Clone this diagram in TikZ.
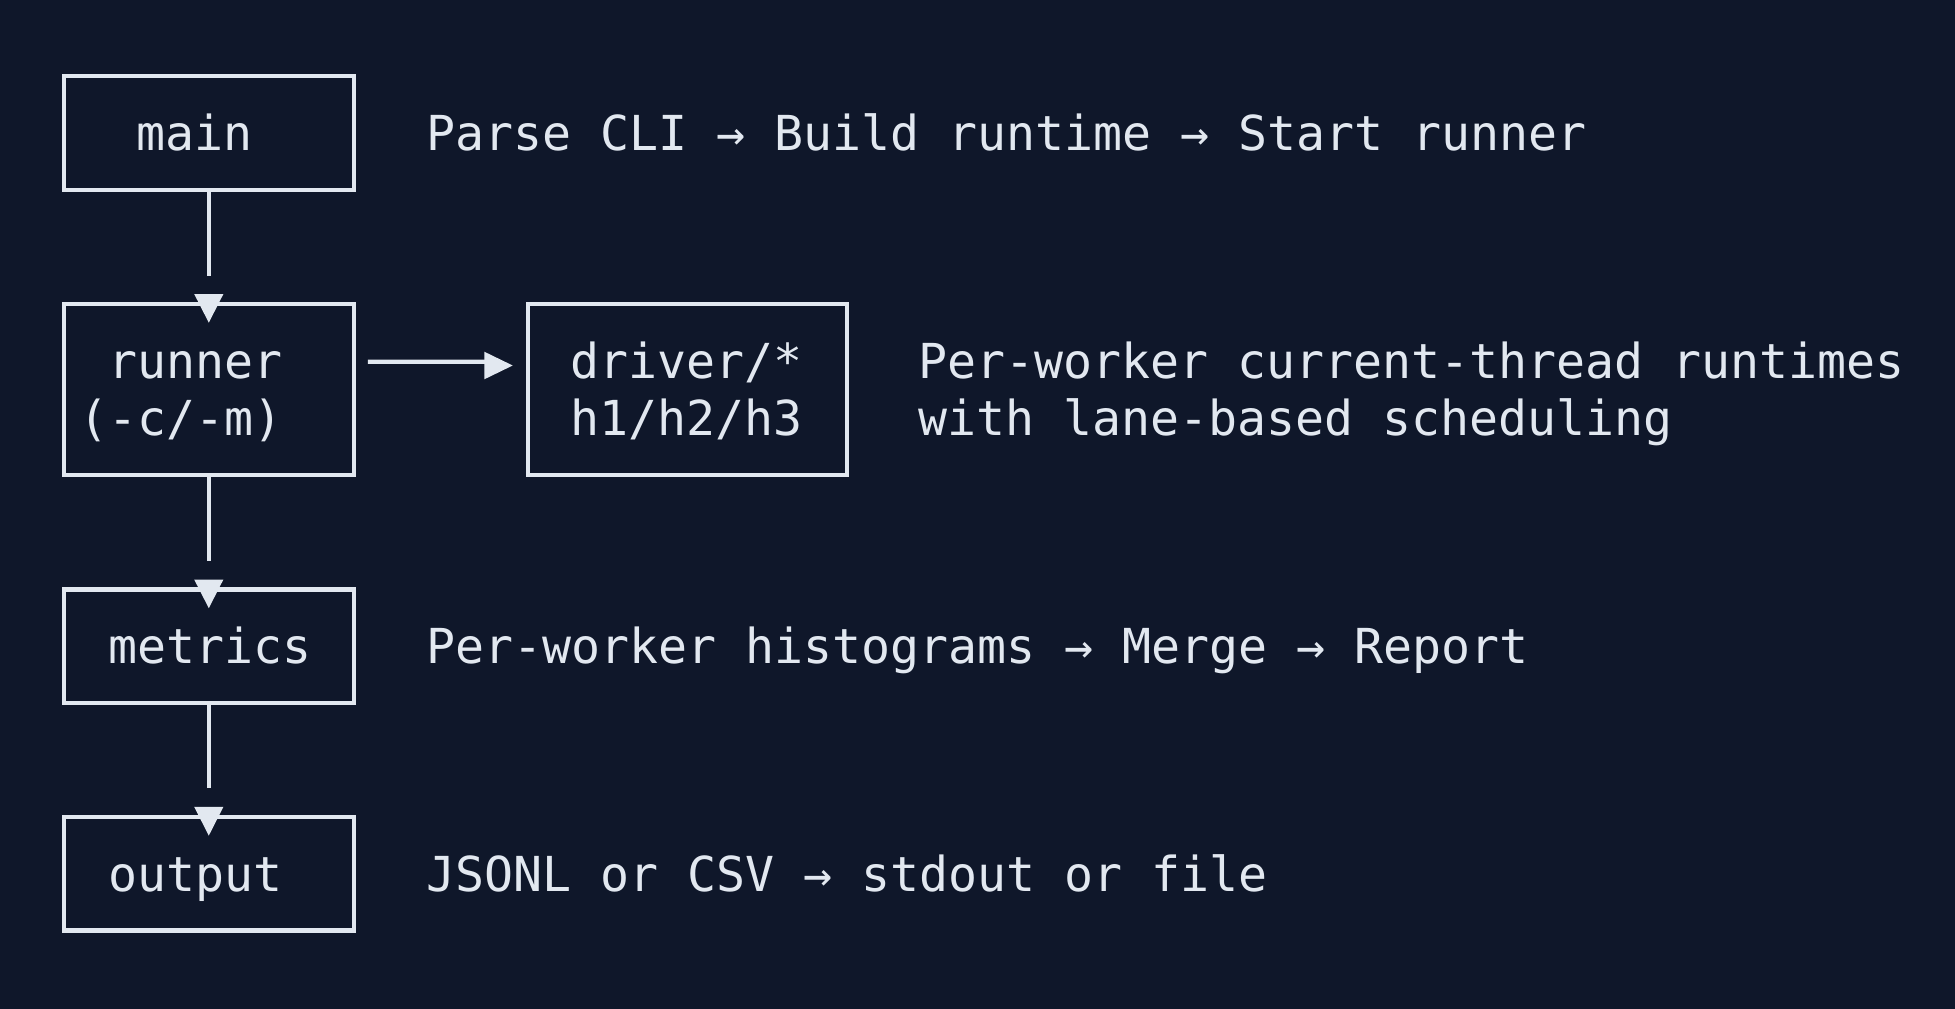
\documentclass[tikz,border=0pt]{standalone}
\usepackage{fontspec}
\newfontfamily\mono{DejaVu Sans Mono}
\usetikzlibrary{calc}
\definecolor{bg}{HTML}{0F172A}
\definecolor{fg}{HTML}{E2E8F0}
\begin{document}
\begin{tikzpicture}[x=1pt,y=-1pt,
  box/.style={draw=fg, line width=4.3pt, inner sep=0pt, outer sep=0pt},
  txt/.style={anchor=base west, inner sep=0pt, outer sep=0pt, text=fg, font=\mono\fontsize{48.2}{57}\selectfont},
  conn/.style={draw=fg, line width=4.3pt},
  head/.style={fill=fg}]
\fill[bg] (0,0) rectangle (1955,1009);
\useasboundingbox (0,0) rectangle (1955,1009);

% boxes
\node[box, minimum width=290pt, minimum height=113.7pt] (main) at (208.8,132.85) {};
\node[box, minimum width=290pt, minimum height=170.7pt] (runner) at (208.8,389.35) {};
\node[box, minimum width=318.4pt, minimum height=170.7pt] (driver) at (687.5,389.65) {};
\node[box, minimum width=290pt, minimum height=113.7pt] (metrics) at (208.8,646.35) {};
\node[box, minimum width=290pt, minimum height=113.7pt] (output) at (208.8,873.75) {};

% texts
\node[txt] (tmain) at (136.9,150) {main};
\node[txt] (dmain) at (426.2,150) {Parse CLI → Build runtime → Start runner};
\node[txt] (trunnerA) at (108,378) {runner};
\node[txt] (trunnerB) at (79.1,435) {(-c/-m)};
\node[txt] (tdriverA) at (570.6,378) {driver/*};
\node[txt] (tdriverB) at (570.6,435) {h1/h2/h3};
\node[txt] (ddriverA) at (918,378) {Per-worker current-thread runtimes};
\node[txt] (ddriverB) at (918,435) {with lane-based scheduling};
\node[txt] (tmetrics) at (108,663) {metrics};
\node[txt] (dmetrics) at (426.2,663) {Per-worker histograms → Merge → Report};
\node[txt] (toutput) at (108,891) {output};
\node[txt] (doutput) at (426.2,891) {JSONL or CSV → stdout or file};

% vertical connectors
\draw[conn, shorten >=28.5pt] (main.south) -- (runner.north);
\fill[head] ($(runner.north)+(-14.6,-10)$) -- ++(29.2,0) -- ($(runner.north)+(0,18.7)$) -- cycle;
\draw[conn, shorten >=28.5pt] (runner.south) -- (metrics.north);
\fill[head] ($(metrics.north)+(-14.6,-10)$) -- ++(29.2,0) -- ($(metrics.north)+(0,18.7)$) -- cycle;
\draw[conn, shorten >=28.5pt] (metrics.south) -- (output.north);
\fill[head] ($(output.north)+(-14.6,-10)$) -- ++(29.2,0) -- ($(output.north)+(0,18.7)$) -- cycle;

% horizontal connector
\draw[conn] ($(runner.north east)+(14,57.7)$) -- ($(driver.north west)+(-43,57.4)$);
\fill[head] ($(driver.north west)+(-44,47.4)$) -- ($(driver.north west)+(-44,75)$) -- ($(driver.north west)+(-15.6,61.2)$) -- cycle;
\end{tikzpicture}
\end{document}
